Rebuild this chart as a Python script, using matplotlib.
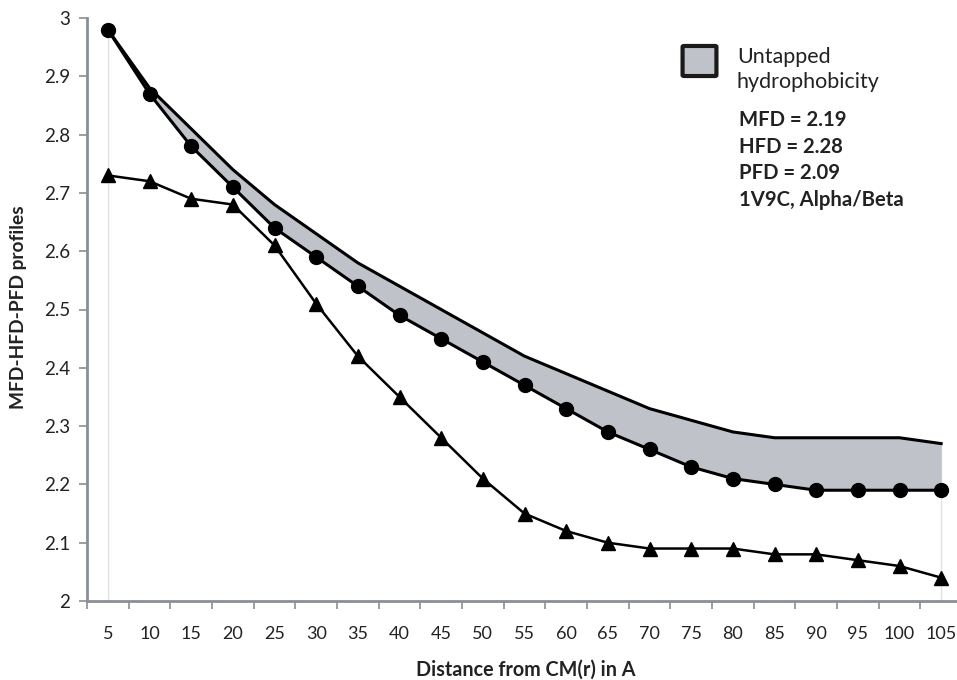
import matplotlib.pyplot as plt
from matplotlib.patches import FancyBboxPatch
from matplotlib.ticker import FixedLocator

plt.rcParams['font.family'] = ['Lato', 'DejaVu Sans']

# distance from centre of mass (category axis)
distance = [5, 10, 15, 20, 25, 30, 35, 40, 45, 50, 55, 60, 65, 70, 75, 80, 85, 90, 95, 100, 105]
# hydrophobicity profiles
hfd = [2.98, 2.88, 2.81, 2.74, 2.68, 2.63, 2.58, 2.54, 2.50, 2.46, 2.42, 2.39, 2.36,
       2.33, 2.31, 2.29, 2.28, 2.28, 2.28, 2.28, 2.27]
mfd = [2.98, 2.87, 2.78, 2.71, 2.64, 2.59, 2.54, 2.49, 2.45, 2.41, 2.37, 2.33, 2.29,
       2.26, 2.23, 2.21, 2.20, 2.19, 2.19, 2.19, 2.19]
pfd = [2.73, 2.72, 2.69, 2.68, 2.61, 2.51, 2.42, 2.35, 2.28, 2.21, 2.15, 2.12, 2.10,
       2.09, 2.09, 2.09, 2.08, 2.08, 2.07, 2.06, 2.04]
y_ticks = [2, 2.1, 2.2, 2.3, 2.4, 2.5, 2.6, 2.7, 2.8, 2.9, 3]
legend_lines = ["Untapped", "hydrophobicity"]
info_lines = ["MFD = 2.19", "HFD = 2.28", "PFD = 2.09", "1V9C, Alpha/Beta"]

W, H = 957, 680
fig = plt.figure(figsize=(W / 100, H / 100), dpi=100)


def fx(px):
    return px / W


def fy(py):
    return 1 - py / H


# axes in pixel terms: left 87, bottom 601, top 18, right runs past the image
ax = fig.add_axes([fx(87), fy(601), (962 - 87) / W, (601 - 18) / H])

axis_grey = '#8a8f96'
fill_grey = '#bfc3c9'
text_col = '#222222'

# drop lines at the ends of the area
ax.vlines([distance[0], distance[-1]], 2, [hfd[0], hfd[-1]], color='#e3e3e3', lw=1, zorder=1)

ax.fill_between(distance, mfd, hfd, color=fill_grey, lw=0, zorder=2)
ax.plot(distance, hfd, color='black', lw=2.2, zorder=3)
ax.plot(distance, mfd, color='black', lw=2.2, marker='o', markersize=10, zorder=4)
ax.plot(distance, pfd, color='black', lw=1.8, marker='^', markersize=10, zorder=4)

ax.set_xlim(distance[0] - 2.5, distance[-1] + 2.5)
ax.set_ylim(2, 3)

ax.set_xticks(distance)
ax.set_xticklabels([str(d) for d in distance], fontsize=13)
ax.xaxis.set_minor_locator(FixedLocator([d - 2.5 for d in distance]))
ax.tick_params(axis='x', which='major', length=0, pad=18, colors=text_col)
ax.tick_params(axis='x', which='minor', length=6, width=1.2, direction='out', color=axis_grey)

ax.set_yticks(y_ticks)
ax.set_yticklabels(['2', '2.1', '2.2', '2.3', '2.4', '2.5', '2.6', '2.7', '2.8', '2.9', '3'], fontsize=13.5)
ax.tick_params(axis='y', length=6, width=1.2, direction='out', color=axis_grey,
               labelcolor=text_col, pad=6)

for side in ['top', 'right']:
    ax.spines[side].set_visible(False)
for side in ['left', 'bottom']:
    ax.spines[side].set_color(axis_grey)
    ax.spines[side].set_linewidth(2)

fig.text(fx(526), fy(670), 'Distance from CM(r) in A', ha='center', va='center',
         fontsize=14.2, fontweight='bold', color=text_col)
fig.text(fx(19), fy(307), 'MFD-HFD-PFD profiles', ha='center', va='center',
         rotation=90, fontsize=13.8, fontweight='bold', color=text_col)

# legend key for the shaded area
key = FancyBboxPatch((fx(684), fy(75)), (717 - 686) / W, (75 - 47) / H,
                     boxstyle='round,pad=0.0015', transform=fig.transFigure,
                     facecolor=fill_grey, edgecolor='#1a1a1a', lw=3)
fig.patches.append(key)
for i, line in enumerate(legend_lines):
    fig.text(fx(737), fy(63 + 25 * i), line, ha='left', va='baseline',
             fontsize=15.5, color=text_col)

for i, line in enumerate(info_lines):
    fig.text(fx(739), fy(126 + 26.7 * i), line, ha='left', va='baseline',
             fontsize=14.6, fontweight='bold', color=text_col)

fig.savefig('out.png', dpi=100)
